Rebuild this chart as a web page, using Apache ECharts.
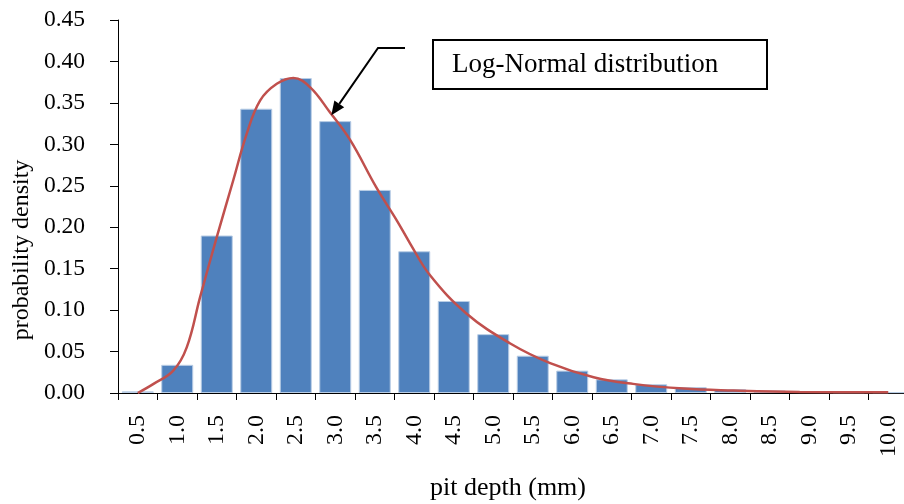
<!DOCTYPE html>
<html>
<head>
<meta charset="utf-8">
<style>
  html, body { margin: 0; padding: 0; background: #ffffff; }
  #chart { width: 904px; height: 504px; }
</style>
<script src="https://cdn.jsdelivr.net/npm/echarts@6/dist/echarts.min.js"></script>
</head>
<body>
<div id="chart"></div>
<script>
// Pit depth classes (mm)
const depthLabels = ['0.5','1.0','1.5','2.0','2.5','3.0','3.5','4.0','4.5','5.0',
                     '5.5','6.0','6.5','7.0','7.5','8.0','8.5','9.0','9.5','10.0'];
// Observed histogram density per class
const densityValues = [0.002, 0.034, 0.190, 0.343, 0.380, 0.328, 0.245, 0.171, 0.111, 0.071,
                       0.045, 0.027, 0.0165, 0.0105, 0.007, 0.0045, 0.003, 0.002, 0.001, 0.001];
// Fitted log-normal curve (depth, density)
const curveDepth = [0.5, 0.7, 0.95, 1.12, 1.29, 1.50, 1.71, 1.88, 2.05, 2.26, 2.47, 2.68, 2.93,
                    3.19, 3.52, 3.78, 3.95, 4.20, 4.66, 5.21, 5.72, 6.27, 6.77, 7.41, 8.04, 8.88, 9.90, 10.0];
const curveDensity = [0.000, 0.011, 0.027, 0.055, 0.116, 0.188, 0.257, 0.313, 0.353, 0.373, 0.380, 0.369, 0.339,
                      0.305, 0.248, 0.208, 0.180, 0.142, 0.096, 0.060, 0.036, 0.019, 0.011, 0.0053, 0.003, 0.0012, 0.0008, 0.0008];
const yTicks = { min: 0, max: 0.45, step: 0.05 };
const xTitle = 'pit depth (mm)';
const yTitle = 'probability density';
const curveLabel = 'Log-Normal distribution';

const serif = '"Liberation Serif", "Times New Roman", serif';
const chart = echarts.init(document.getElementById('chart'), null, { renderer: 'canvas' });

const curvePoints = curveDepth.map((d, i) => [d, curveDensity[i]]);

chart.setOption({
  animation: false,
  backgroundColor: '#ffffff',
  textStyle: { fontFamily: serif, color: '#000' },
  grid: { left: 118, top: 20, right: -4, bottom: 111, containLabel: false, outerBoundsMode: 'none' },
  xAxis: [
    {
      type: 'category',
      data: depthLabels,
      boundaryGap: true,
      axisLine: { lineStyle: { color: '#000', width: 1 } },
      axisTick: { show: true, length: 7, lineStyle: { color: '#000' } },
      axisLabel: { rotate: 90, fontFamily: serif, fontSize: 24, color: '#000', margin: 22 },
      splitLine: { show: false }
    },
    {
      type: 'value',
      min: 0.25,
      max: 10.25,
      show: false
    }
  ],
  yAxis: {
    type: 'value',
    min: yTicks.min,
    max: yTicks.max,
    interval: yTicks.step,
    axisLine: { show: true, lineStyle: { color: '#000', width: 1 } },
    axisTick: { show: true, length: 8, lineStyle: { color: '#000' } },
    axisLabel: { fontFamily: serif, fontSize: 23.5, color: '#000', margin: 33,
                 formatter: v => v.toFixed(2) },
    splitLine: { show: false }
  },
  series: [
    {
      type: 'bar',
      data: densityValues,
      xAxisIndex: 0,
      barCategoryGap: '19%',
      itemStyle: { color: '#4F81BD', borderColor: '#B9CDE5', borderWidth: 1 },
      z: 2
    },
    {
      type: 'line',
      data: curvePoints,
      xAxisIndex: 1,
      smooth: 0.4,
      symbol: 'none',
      lineStyle: { color: '#C0504D', width: 2.5 },
      z: 3
    }
  ]
});

// Callout: labelled box with an arrow pointing at the fitted curve
const tip = chart.convertToPixel({ xAxisIndex: 1, yAxisIndex: 0 }, [2.95, 0.335]);
const elbow = [378, 48];
const tail = [405, 48];
const ang = Math.atan2(tip[1] - elbow[1], tip[0] - elbow[0]);
const headLen = 14, headHalf = 6;
const bx = tip[0] - headLen * Math.cos(ang), by = tip[1] - headLen * Math.sin(ang);
const head = [
  tip,
  [bx + headHalf * Math.sin(ang), by - headHalf * Math.cos(ang)],
  [bx - headHalf * Math.sin(ang), by + headHalf * Math.cos(ang)]
];

chart.setOption({
  graphic: [
    // axis titles
    {
      type: 'text',
      x: 508, y: 488,
      style: { text: xTitle, font: '26px ' + serif, fill: '#000', align: 'center', verticalAlign: 'middle' },
      z: 5
    },
    {
      type: 'text',
      x: 22, y: 250,
      rotation: Math.PI / 2,
      style: { text: yTitle, font: '24px ' + serif, fill: '#000', align: 'center', verticalAlign: 'middle' },
      z: 5
    },
    // callout arrow
    {
      type: 'polyline',
      shape: { points: [tail, elbow, [bx, by]] },
      style: { stroke: '#000', lineWidth: 2, fill: null },
      z: 10
    },
    {
      type: 'polygon',
      shape: { points: head },
      style: { fill: '#000' },
      z: 10
    },
    // callout box
    {
      type: 'rect',
      shape: { x: 433, y: 40, width: 334, height: 49 },
      style: { fill: '#fff', stroke: '#000', lineWidth: 2 },
      z: 10
    },
    {
      type: 'text',
      x: 452, y: 65,
      style: { text: curveLabel, font: '27px ' + serif, fill: '#000', verticalAlign: 'middle' },
      z: 11
    }
  ]
});
</script>
</body>
</html>
